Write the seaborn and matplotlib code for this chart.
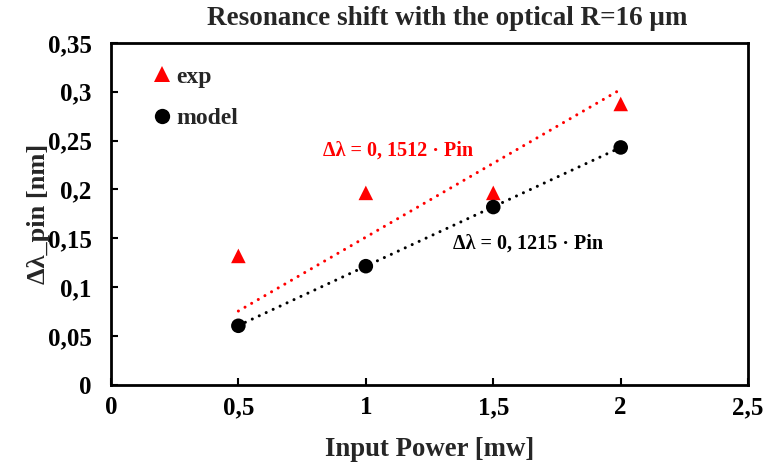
import numpy as np
import pandas as pd
import matplotlib
matplotlib.use("Agg")
import matplotlib.pyplot as plt
import seaborn as sns
from matplotlib.ticker import FuncFormatter

# --- data ---
power = [0.5, 1.0, 1.5, 2.0]
shift_exp = [0.132, 0.1965, 0.1965, 0.2875]
shift_model = [0.0605, 0.1215, 0.182, 0.243]
slope_exp = 0.1512
slope_model = 0.1215

x_ticks = [0, 0.5, 1, 1.5, 2, 2.5]
y_ticks = [0, 0.05, 0.1, 0.15, 0.2, 0.25, 0.3, 0.35]

sns.set_style("white")
plt.rcParams['font.family'] = ['Liberation Serif', 'DejaVu Serif']
plt.rcParams['font.weight'] = 'bold'

df = pd.DataFrame({
    'Pin': power * 2,
    'shift': shift_exp + shift_model,
    'series': ['exp'] * 4 + ['model'] * 4,
})

fig = plt.figure(figsize=(7.65, 4.66), dpi=100)
ax = fig.add_axes([0.145, 0.174, 0.833, 0.734])

# linear trend lines through origin
x_fit = np.array([min(power), max(power)])
ax.plot(x_fit, slope_exp * x_fit, color='red', lw=2.2,
        linestyle=(0, (0.01, 2.5)), dash_capstyle='round', zorder=2)
ax.plot(x_fit, slope_model * x_fit, color='black', lw=2.2,
        linestyle=(0, (0.01, 2.5)), dash_capstyle='round', zorder=2)

sns.scatterplot(data=df, x='Pin', y='shift', hue='series', style='series',
                palette={'exp': 'red', 'model': 'black'},
                markers={'exp': '^', 'model': 'o'},
                s=110, linewidth=0, ax=ax, zorder=3)

ax.set_xlim(0, 2.5)
ax.set_ylim(0, 0.35)
ax.set_xticks(x_ticks)
ax.set_yticks(y_ticks)
comma = FuncFormatter(lambda v, p: ('%g' % round(v, 2)).replace('.', ','))
ax.xaxis.set_major_formatter(comma)
ax.yaxis.set_major_formatter(comma)
ax.tick_params(axis='both', direction='in', length=5, width=1.5,
               labelsize=18, bottom=True, left=True, colors='black')
ax.tick_params(axis='y', pad=14)
ax.tick_params(axis='x', pad=8)
for lab in ax.get_xticklabels() + ax.get_yticklabels():
    lab.set_fontweight('bold')
for sp in ax.spines.values():
    sp.set_visible(True)
    sp.set_color('black')
    sp.set_linewidth(2)

ax.set_xlabel('Input Power [mw]', fontsize=19.3, fontweight='bold', labelpad=13)
ax.set_ylabel('Δλ_pin [nm]', fontsize=19, fontweight='bold', labelpad=-2)
fig.suptitle('Resonance shift with the optical R=16 μm', fontsize=19.5,
             fontweight='bold', x=0.585, y=0.987)

ax.text(1.126, 0.2395, 'Δλ = 0, 1512 · Pin', color='red', fontsize=14.5,
        fontweight='bold', ha='center', va='center')
ax.text(1.637, 0.1443, 'Δλ = 0, 1215 · Pin', color='black', fontsize=14.5,
        fontweight='bold', ha='center', va='center')

leg = ax.legend(loc='upper left', bbox_to_anchor=(0.05, 0.96), frameon=False,
                fontsize=17, handlelength=0.8, handletextpad=0.2,
                labelspacing=0.85, markerscale=1.05, borderaxespad=0)
for t in leg.get_texts():
    t.set_fontweight('bold')

fig.savefig('out.png', dpi=100)
